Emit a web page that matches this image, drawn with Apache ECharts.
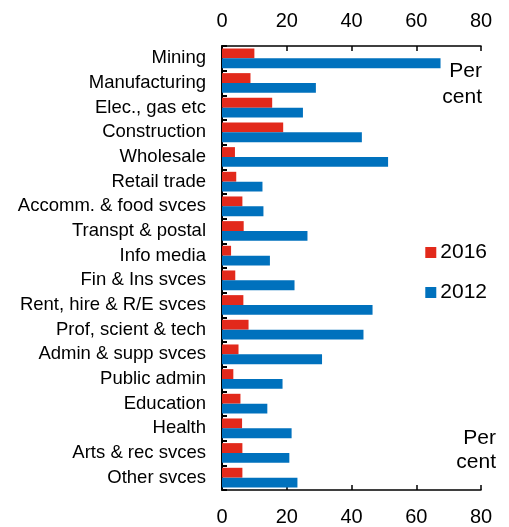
<!DOCTYPE html>
<html>
<head>
<meta charset="utf-8">
<script src="https://cdn.jsdelivr.net/npm/echarts@6/dist/echarts.min.js"></script>
<style>
  html, body { margin: 0; padding: 0; background: #fff; }
  #chart { width: 509px; height: 527px; }
</style>
</head>
<body>
<div id="chart"></div>
<script>
const categories = [
  "Mining", "Manufacturing", "Elec., gas etc", "Construction", "Wholesale",
  "Retail trade", "Accomm. & food svces", "Transpt & postal", "Info media",
  "Fin & Ins svces", "Rent, hire & R/E svces", "Prof, scient & tech",
  "Admin & supp svces", "Public admin", "Education", "Health",
  "Arts & rec svces", "Other svces"
];
const values2016 = [10.0, 8.8, 15.5, 18.9, 4.0, 4.4, 6.3, 6.7, 2.8, 4.1, 6.6, 8.2, 5.1, 3.5, 5.7, 6.2, 6.3, 6.3];
const values2012 = [67.5, 29.0, 25.0, 43.2, 51.3, 12.5, 12.8, 26.4, 14.8, 22.4, 46.5, 43.7, 30.9, 18.7, 14.0, 21.5, 20.8, 23.3];
const xTicks = { min: 0, max: 80, interval: 20 };

const font = "Liberation Sans, Arial, sans-serif";
const chart = echarts.init(document.getElementById("chart"));

const xAxisBase = {
  type: "value",
  min: xTicks.min,
  max: xTicks.max,
  interval: xTicks.interval,
  splitLine: { show: false },
  axisLine: { show: true, lineStyle: { color: "#000", width: 1.5 } },
  axisTick: { show: true, inside: true, length: 5, lineStyle: { color: "#000", width: 1.5 } },
  axisLabel: { color: "#000", fontSize: 20, fontFamily: font }
};

chart.setOption({
  animation: false,
  grid: { left: 222, right: 28, top: 46, bottom: 34 },
  legend: {
    orient: "vertical",
    right: 17,
    top: 237,
    itemWidth: 11,
    itemHeight: 11,
    itemGap: 19,
    icon: "rect",
    textStyle: { color: "#000", fontSize: 21, fontFamily: font, padding: [0, 0, 0, -1] },
    data: ["2016", "2012"]
  },
  xAxis: [
    Object.assign({}, xAxisBase, { position: "top", axisLabel: Object.assign({}, xAxisBase.axisLabel, { margin: 15 }) }),
    Object.assign({}, xAxisBase, { position: "bottom", axisLabel: Object.assign({}, xAxisBase.axisLabel, { margin: 17 }) })
  ],
  yAxis: {
    type: "category",
    inverse: true,
    data: categories,
    axisLine: { show: true, lineStyle: { color: "#000", width: 2 } },
    axisTick: { show: true, inside: true, length: 5, interval: 0, lineStyle: { color: "#000", width: 2 } },
    axisLabel: { color: "#000", fontSize: 18.5, fontFamily: font, margin: 16, interval: 0 }
  },
  graphic: [
    { type: "text", right: 27, top: 61, style: { text: "Per", fill: "#000", font: "21px " + font, textAlign: "right" } },
    { type: "text", right: 27, top: 87, style: { text: "cent", fill: "#000", font: "21px " + font, textAlign: "right" } },
    { type: "text", right: 13, top: 428, style: { text: "Per", fill: "#000", font: "21px " + font, textAlign: "right" } },
    { type: "text", right: 13, top: 452, style: { text: "cent", fill: "#000", font: "21px " + font, textAlign: "right" } }
  ],
  series: [
    {
      name: "2016",
      type: "bar",
      xAxisIndex: 0,
      data: values2016,
      barGap: "0%",
      barCategoryGap: "20%",
      itemStyle: { color: "#E2291B" }
    },
    {
      name: "2012",
      type: "bar",
      xAxisIndex: 0,
      data: values2012,
      barGap: "0%",
      barCategoryGap: "20%",
      itemStyle: { color: "#0071BD" }
    }
  ]
});
</script>
</body>
</html>
